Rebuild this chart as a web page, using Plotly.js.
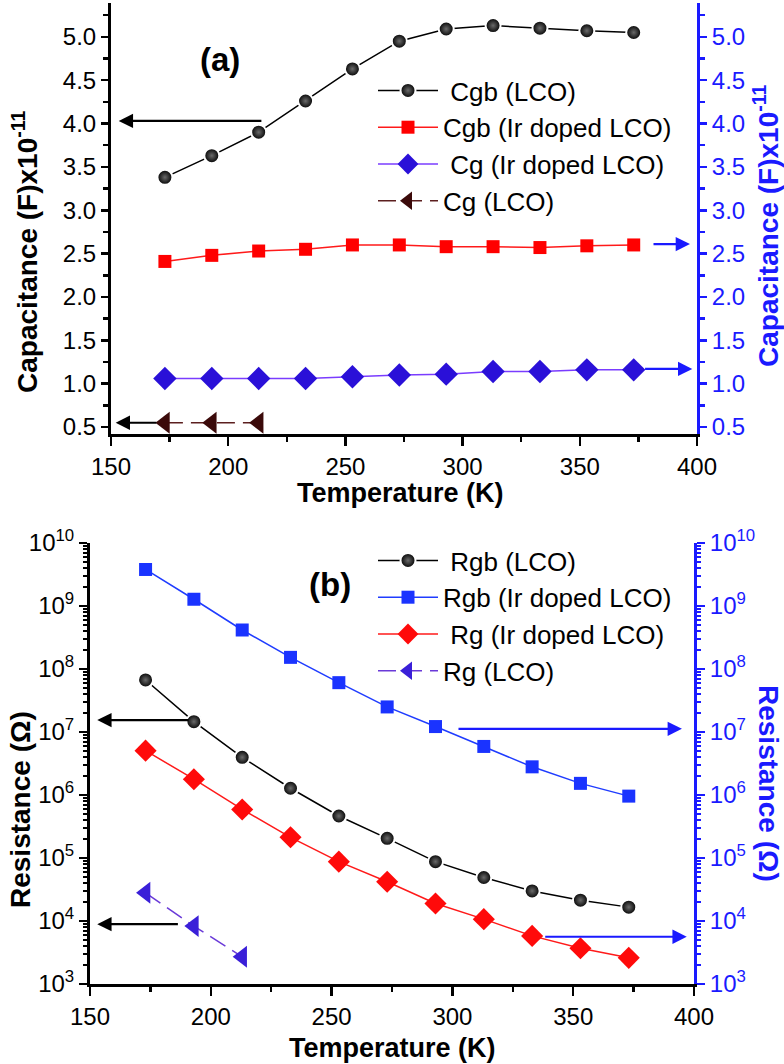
<!DOCTYPE html>
<html>
<head>
<meta charset="utf-8">
<script src="https://cdn.plot.ly/plotly-3.0.1.min.js"></script>
<style>html,body{margin:0;padding:0;background:#fff;}</style>
</head>
<body>
<div id="chart" style="width:784px;height:1064px;"></div>
<script>
// ---------- data ----------
const temperature = [173, 193, 213, 233, 253, 273, 293, 313, 333, 353, 373];
const temperatureShort = [173, 193, 213];

// panel (a): capacitance x10^-11 F
const cgbLCO = [3.38, 3.63, 3.90, 4.26, 4.63, 4.95, 5.09, 5.13, 5.10, 5.07, 5.05];
const cgbIr  = [2.41, 2.48, 2.53, 2.55, 2.60, 2.60, 2.58, 2.58, 2.57, 2.59, 2.60];
const cgIr   = [1.06, 1.06, 1.06, 1.06, 1.08, 1.10, 1.11, 1.14, 1.14, 1.16, 1.16];
const cgLCO  = [0.55, 0.55, 0.55];

// panel (b): resistance (Ohm)
const rgbLCO = [6.7e7, 1.46e7, 3.96e6, 1.28e6, 4.64e5, 2.05e5, 8.75e4, 4.9e4, 3.0e4, 2.14e4, 1.66e4];
const rgbIr  = [3.8e9, 1.28e9, 4.16e8, 1.53e8, 6.07e7, 2.5e7, 1.22e7, 5.9e6, 2.8e6, 1.53e6, 9.6e5];
const rgIr   = [5.06e6, 1.78e6, 5.9e5, 2.13e5, 8.75e4, 4.2e4, 1.9e4, 1.07e4, 5.8e3, 3.7e3, 2.6e3];
const rgLCO  = [2.8e4, 8.3e3, 2.7e3];

const namesA = ['\u00a0Cgb (LCO)', 'Cgb (Ir doped LCO)', '\u00a0Cg (Ir doped LCO)', 'Cg (LCO)'];
const namesB = ['\u00a0Rgb (LCO)', 'Rgb (Ir doped LCO)', '\u00a0Rg (Ir doped LCO)', 'Rg (LCO)'];

const decadeExps = [3, 4, 5, 6, 7, 8, 9, 10];
const decadeVals = decadeExps.map(e => Math.pow(10, e));
const decadeText = decadeExps.map(e => '10<sup>' + e + '</sup>');

// ---------- styling ----------
const W = 784, H = 1064;
const FONT = 'Liberation Sans, Arial, Helvetica, sans-serif';
const BLUE = '#1a1aff';
const px = v => v / W;
const py = v => (H - v) / H;

const minorLog = [];
for (let e = 3; e < 10; e++) for (let m = 2; m <= 9; m++) minorLog.push(m * Math.pow(10, e));

const sphere = {symbol: 'circle', size: 15, color: '#000', gradient: {type: 'radial', color: '#6a6a6a'}, line: {color: '#fff', width: 2}};

const traces = [
  // panel (a)
  {x: temperature, y: cgbLCO, name: namesA[0], mode: 'lines+markers', xaxis: 'x', yaxis: 'y', legend: 'legend',
   line: {color: '#000', width: 1.5}, marker: sphere},
  {x: temperature, y: cgbIr, name: namesA[1], mode: 'lines+markers', xaxis: 'x', yaxis: 'y2', legend: 'legend',
   line: {color: '#ff1a1a', width: 1.5}, marker: {symbol: 'square', size: 13, color: '#ff0000'}},
  {x: temperature, y: cgIr, name: namesA[2], mode: 'lines+markers', xaxis: 'x', yaxis: 'y2', legend: 'legend',
   line: {color: '#7a3cff', width: 1.5}, marker: {symbol: 'diamond', size: 18, color: '#2a10d8'}},
  {x: temperatureShort, y: cgLCO, name: namesA[3], mode: 'lines+markers', xaxis: 'x', yaxis: 'y', legend: 'legend',
   line: {color: '#5c1f1f', width: 1.5, dash: '18px,8px'}, marker: {symbol: 'triangle-left', size: 19, color: '#3b0a0a', line: {width: 0}}},
  // panel (b)
  {x: temperature, y: rgbLCO, name: namesB[0], mode: 'lines+markers', xaxis: 'x2', yaxis: 'y3', legend: 'legend2',
   line: {color: '#000', width: 1.5}, marker: sphere},
  {x: temperature, y: rgbIr, name: namesB[1], mode: 'lines+markers', xaxis: 'x2', yaxis: 'y4', legend: 'legend2',
   line: {color: '#1f3cff', width: 1.5}, marker: {symbol: 'square', size: 13, color: '#1a33ff'}},
  {x: temperature, y: rgIr, name: namesB[2], mode: 'lines+markers', xaxis: 'x2', yaxis: 'y4', legend: 'legend2',
   line: {color: '#ff1a1a', width: 1.5}, marker: {symbol: 'diamond', size: 17, color: '#ff0a0a'}},
  {x: temperatureShort, y: rgLCO, name: namesB[3], mode: 'lines+markers', xaxis: 'x2', yaxis: 'y3', legend: 'legend2',
   line: {color: '#6a3ad8', width: 1.5, dash: '18px,8px'}, marker: {symbol: 'triangle-left', size: 19, color: '#3a1fd8', line: {width: 0}}}
];

function xBottom(domain, anchor) {
  return {domain: domain, anchor: anchor, range: [150, 400], tickmode: 'linear', tick0: 150, dtick: 50,
    ticks: 'outside', ticklen: 9, tickwidth: 2.5, tickcolor: '#000',
    minor: {tickmode: 'linear', tick0: 150, dtick: 25, ticks: 'outside', ticklen: 5, tickwidth: 2.5, tickcolor: '#000'},
    showline: true, linewidth: 3, linecolor: '#000', showgrid: false, zeroline: false,
    tickfont: {family: FONT, size: 24, color: '#000'}, ticklabelstandoff: 0};
}
function xTop(over, anchor) {
  return {overlaying: over, side: 'top', anchor: anchor, range: [150, 400], tickmode: 'linear', tick0: 150, dtick: 25,
    ticks: 'inside', ticklen: 7, tickwidth: 2.5, tickcolor: '#000', showticklabels: false,
    showline: true, linewidth: 3, linecolor: '#000', showgrid: false, zeroline: false};
}
function yLin(color, side, extra) {
  return Object.assign({range: [0.42, 5.39], tickmode: 'linear', tick0: 0.5, dtick: 0.5, tickformat: '.1f', side: side,
    ticks: 'outside', ticklen: 7, tickwidth: 2.5, tickcolor: color,
    minor: {tickmode: 'linear', tick0: 0.25, dtick: 0.25, ticks: 'outside', ticklen: 5, tickwidth: 2.5, tickcolor: color},
    showline: true, linewidth: 3, linecolor: color, showgrid: false, zeroline: false,
    tickfont: {family: FONT, size: 24, color: color}}, extra);
}
function yLog(color, side, extra) {
  return Object.assign({type: 'log', range: [3, 10], tickmode: 'array', tickvals: decadeVals, ticktext: decadeText, side: side,
    ticks: 'outside', ticklen: 8, tickwidth: 2.5, tickcolor: color,
    minor: {tickmode: 'array', tickvals: minorLog, ticks: 'outside', ticklen: 4, tickwidth: 2, tickcolor: color},
    showline: true, linewidth: 3, linecolor: color, showgrid: false, zeroline: false,
    tickfont: {family: FONT, size: 24, color: color}}, extra);
}

const domA = [py(434), py(3)];
const domB = [py(984), py(543)];

function arrow(xref, yref, xHead, yHead, xTail, color) {
  return {xref: xref, yref: yref, axref: xref, ayref: yref, x: xHead, y: yHead, ax: xTail, ay: yHead,
    text: '', showarrow: true, arrowhead: 2, arrowsize: 1.3, arrowwidth: 2.2, arrowcolor: color, standoff: 0, startstandoff: 0};
}
function label(text, x, y, size, color, angle) {
  return {xref: 'paper', yref: 'paper', x: px(x), y: py(y), xanchor: 'center', yanchor: 'middle',
    text: text, showarrow: false, textangle: angle || 0, font: {family: FONT, size: size, color: color}};
}

const legendCommon = {xanchor: 'left', yanchor: 'top', bgcolor: 'rgba(0,0,0,0)',
  font: {family: FONT, size: 26, color: '#000'}, itemwidth: 60, tracegroupgap: 0, traceorder: 'normal'};

const layout = {
  width: W, height: H, autosize: false,
  margin: {l: 0, r: 0, t: 0, b: 0},
  paper_bgcolor: '#fff', plot_bgcolor: 'rgba(0,0,0,0)',
  font: {family: FONT, color: '#000'},
  xaxis: xBottom([px(111), px(697)], 'y'),
  xaxis3: xTop('x', 'y'),
  yaxis: yLin('#000', 'left', {domain: domA, anchor: 'x'}),
  yaxis2: yLin(BLUE, 'right', {overlaying: 'y', anchor: 'x'}),
  xaxis2: xBottom([px(90), px(694)], 'y3'),
  xaxis4: xTop('x2', 'y3'),
  yaxis3: yLog('#000', 'left', {domain: domB, anchor: 'x2'}),
  yaxis4: yLog(BLUE, 'right', {overlaying: 'y3', anchor: 'x2'}),
  legend: Object.assign({x: px(373), y: py(67)}, legendCommon),
  legend2: Object.assign({x: px(373), y: py(537)}, legendCommon),
  showlegend: true,
  annotations: [
    label('<b>Capacitance (F)x10<sup>-11</sup></b>', 25, 252, 28, '#000', -90),
    label('<b>Capacitance (F)x10<sup>-11</sup></b>', 766, 226, 28, BLUE, -90),
    label('<b>Temperature (K)</b>', 400, 493, 27, '#000'),
    label('<b>Temperature (K)</b>', 392, 1048, 27, '#000'),
    label('<b>Resistance (\u03a9)</b>', 20, 810, 28, '#000', -90),
    label('<b>Resistance (\u03a9)</b>', 769, 783, 28, BLUE, 90),
    label('<b>(a)</b>', 220, 60, 33, '#000'),
    label('<b>(b)</b>', 330, 584, 33, '#000'),
    arrow('x', 'y', 153.3, 4.03, 214.8, '#000'),
    arrow('x', 'y', 152.0, 0.55, 170.0, '#000'),
    arrow('x', 'y', 397.0, 2.61, 380.8, BLUE),
    arrow('x', 'y', 398.0, 1.17, 377.2, BLUE),
    arrow('x2', 'y3', 153.0, 7.19, 191.4, '#000'),
    arrow('x2', 'y3', 153.0, 3.95, 187.0, '#000'),
    arrow('x2', 'y3', 395.0, 7.05, 301.9, BLUE),
    arrow('x2', 'y3', 397.0, 3.75, 337.8, BLUE)
  ]
};

Plotly.newPlot('chart', traces, layout, {displayModeBar: false, staticPlot: true});
</script>
</body>
</html>
